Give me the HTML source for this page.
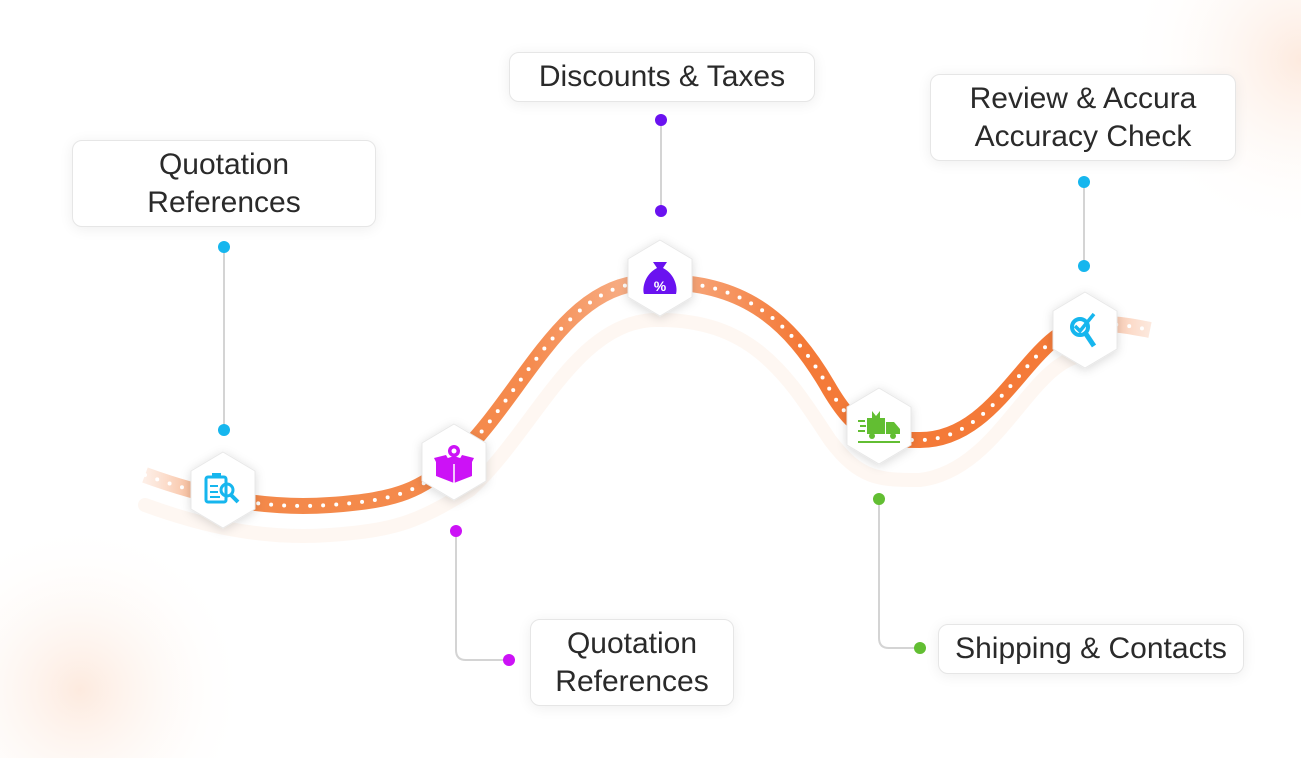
<!DOCTYPE html>
<html><head><meta charset="utf-8"><style>
html,body{margin:0;padding:0;background:#fff;width:1301px;height:758px;overflow:hidden;}
body{position:relative;font-family:"Liberation Sans",sans-serif;}
.box{position:absolute;box-sizing:border-box;background:#fff;border:1px solid #e6e6e6;border-radius:10px;box-shadow:0 2px 14px rgba(0,0,0,0.07);display:flex;align-items:center;justify-content:center;text-align:center;color:#2a2a2a;font-size:30px;line-height:38px;}
svg{position:absolute;left:0;top:0;display:block;}
</style></head><body>
<svg width="1301" height="758" viewBox="0 0 1301 758">
<defs>
<radialGradient id="g1" cx="0.5" cy="0.5" r="0.5"><stop offset="0" stop-color="#fbd9c4" stop-opacity="0.55"/><stop offset="1" stop-color="#fff" stop-opacity="0"/></radialGradient>
<linearGradient id="pg" x1="0" x2="1" y1="0" y2="0">
<stop offset="0" stop-color="#f9c7ac" stop-opacity="0.3"/><stop offset="0.08" stop-color="#f4894a"/><stop offset="0.38" stop-color="#f58a4d"/><stop offset="0.5" stop-color="#f8b591"/><stop offset="0.65" stop-color="#f47a38"/><stop offset="0.9" stop-color="#f47a38"/><stop offset="1" stop-color="#f9c7ac" stop-opacity="0.4"/></linearGradient>
<filter id="sh" x="-30%" y="-30%" width="160%" height="160%"><feDropShadow dx="0" dy="2" stdDeviation="5" flood-color="#000" flood-opacity="0.15"/></filter>
</defs>
<circle cx="80" cy="690" r="170" fill="url(#g1)"/>
<circle cx="1301" cy="60" r="180" fill="url(#g1)"/>
<path d="M145,505 C200,525 260,540 330,535 S420,520 470,490 C535,430 575,322 655,320 C755,318 790,380 830,440 C860,480 880,480 920,480 C1000,470 1030,360 1085,355" fill="none" stroke="#fdf1ea" stroke-width="14" stroke-linecap="round" opacity="0.6"/>
<path d="M145,475 C200,495 260,510 330,505 S420,490 455,460 C520,400 560,290 640,283 C740,275 790,320 830,390 C860,440 880,440 920,440 C1000,440 1030,330 1085,325 C1110,322 1130,326 1150,330" fill="none" stroke="url(#pg)" stroke-width="16"/>
<path d="M145,475 C200,495 260,510 330,505 S420,490 455,460 C520,400 560,290 640,283 C740,275 790,320 830,390 C860,440 880,440 920,440 C1000,440 1030,330 1085,325 C1110,322 1130,326 1150,330" fill="none" stroke="#fff" stroke-width="4" stroke-dasharray="0 13" stroke-linecap="round"/>
<g stroke="#d4d4d4" stroke-width="2" fill="none">
<line x1="224" y1="247" x2="224" y2="430"/>
<line x1="661" y1="120" x2="661" y2="211"/>
<line x1="1084" y1="182" x2="1084" y2="266"/>
<path d="M456,531 V650 Q456,660 466,660 H509"/>
<path d="M879,499 V638 Q879,648 889,648 H920"/>
</g>
<g>
<circle cx="224" cy="247" r="6" fill="#16b6ee"/><circle cx="224" cy="430" r="6" fill="#16b6ee"/>
<circle cx="661" cy="120" r="6" fill="#6a12f0"/><circle cx="661" cy="211" r="6" fill="#6a12f0"/>
<circle cx="1084" cy="182" r="6" fill="#16b6ee"/><circle cx="1084" cy="266" r="6" fill="#16b6ee"/>
<circle cx="456" cy="531" r="6" fill="#cc12f6"/><circle cx="509" cy="660" r="6" fill="#cc12f6"/>
<circle cx="879" cy="499" r="6" fill="#62be32"/><circle cx="920" cy="648" r="6" fill="#62be32"/>
</g>
<g filter="url(#sh)" fill="#fff" stroke="#e8e8e8" stroke-width="1">
<polygon points="223,452 255,471 255,509 223,528 191,509 191,471"/>
<polygon points="454,424 486,443 486,481 454,500 422,481 422,443"/>
<polygon points="660,240 692,259 692,297 660,316 628,297 628,259"/>
<polygon points="879,388 911,407 911,445 879,464 847,445 847,407"/>
<polygon points="1085,292 1117,311 1117,349 1085,368 1053,349 1053,311"/>
</g>
<g fill="none" stroke="#16b6ee" stroke-width="3">
<rect x="206" y="477" width="20" height="25" rx="2"/>
<circle cx="227" cy="490" r="6"/>
<line x1="231" y1="495" x2="238" y2="502" stroke-width="4"/>
<line x1="210" y1="486" x2="218" y2="486" stroke-width="2"/><line x1="210" y1="492" x2="218" y2="492" stroke-width="2"/><line x1="210" y1="497" x2="220" y2="497" stroke-width="2"/>
</g>
<rect x="212" y="473" width="9" height="5" fill="#16b6ee"/>
<g fill="#cc12f6">
<circle cx="454" cy="451" r="6"/><circle cx="454" cy="451" r="2.5" fill="#fff"/>
<polygon points="436,462 454,456 472,462 472,476 454,483 436,476"/>
<polygon points="434,458 446,455 450,462 438,466"/><polygon points="474,458 462,455 458,462 470,466"/>
</g>
<line x1="454" y1="464" x2="454" y2="483" stroke="#fff" stroke-width="1.5"/>
<path d="M653,262 L667,262 L663,268 C675,274 678,288 676,294 L644,294 C642,288 645,274 657,268 Z" fill="#6a12f0"/>
<text x="660" y="291" font-size="14" fill="#fff" text-anchor="middle" font-family="Liberation Sans" font-weight="bold">%</text>
<g fill="#62be32">
<rect x="867" y="418" width="18" height="16"/>
<path d="M886,422 h8 l6,7 v5 h-14z"/>
<circle cx="872" cy="436" r="3"/><circle cx="893" cy="436" r="3"/>
<rect x="858" y="420" width="7" height="2"/><rect x="860" y="425" width="6" height="2"/><rect x="858" y="430" width="7" height="2"/>
<rect x="858" y="441" width="42" height="2"/>
<path d="M872,411 l4,5 l4,-5 v7 h-8z"/>
</g>
<g fill="none" stroke="#16b6ee">
<circle cx="1080" cy="327" r="8" stroke-width="4"/>
<line x1="1086" y1="334" x2="1094" y2="346" stroke-width="5"/>
<path d="M1075,326 l5,5 l14,-17" stroke-width="3.5"/>
</g>
</svg>
<div class="box" style="left:72px;top:140px;width:304px;height:87px;">Quotation<br>References</div>
<div class="box" style="left:509px;top:52px;width:306px;height:50px;">Discounts &amp; Taxes</div>
<div class="box" style="left:930px;top:74px;width:306px;height:87px;">Review &amp; Accura<br>Accuracy Check</div>
<div class="box" style="left:530px;top:619px;width:204px;height:87px;">Quotation<br>References</div>
<div class="box" style="left:938px;top:624px;width:306px;height:50px;">Shipping &amp; Contacts</div>
</body></html>
